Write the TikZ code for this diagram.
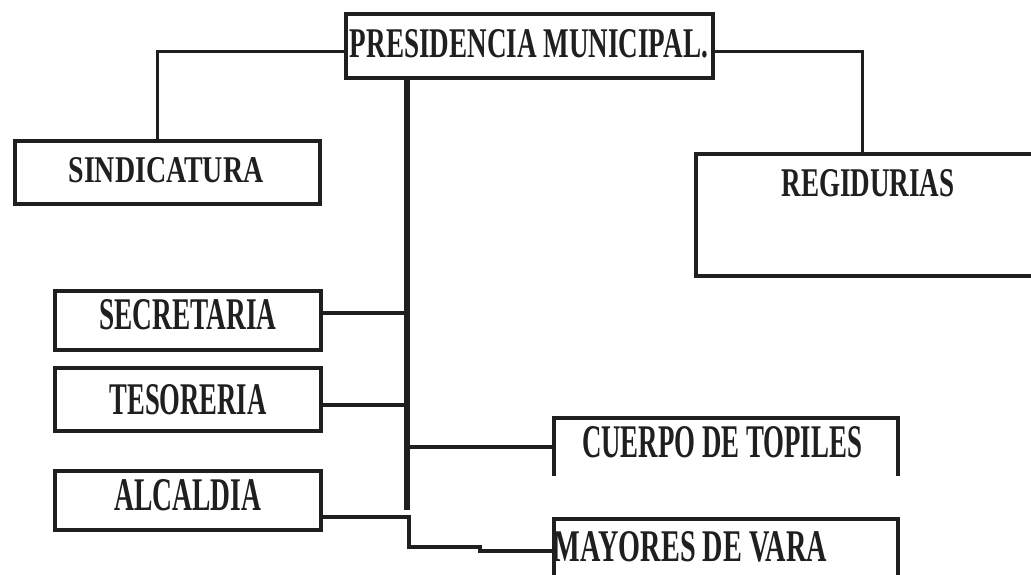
\documentclass[tikz,border=0pt]{standalone}
\usepackage{fontspec}
\usepackage{graphicx}
\setmainfont{Liberation Serif}
\definecolor{ink}{HTML}{1F1F1F}
\newcommand\fitt[3]{\resizebox{#1}{#2}{\bfseries #3}}
\tikzset{
  orgbox/.style={draw=ink, line width=4pt, rectangle, inner sep=0pt},
  txt/.style={inner sep=0pt, text=ink, anchor=center},
  openbox/.style={draw=ink, line width=4pt},
  conn/.style={draw=ink, line width=4pt},
  thinconn/.style={draw=ink, line width=3pt},
  trunk/.style={draw=ink, line width=6pt}
}
\begin{document}
\begin{tikzpicture}[x=1pt,y=-1pt]
\useasboundingbox (0,0) rectangle (1031,575);
\fill[white] (0,0) rectangle (1031,575);
% boxes
\node[orgbox, minimum width=367pt, minimum height=64pt] (pres) at (529.5,46) {};
\node[orgbox, minimum width=305pt, minimum height=63pt] (sind) at (167.5,172.5) {};
\node[orgbox, minimum width=266pt, minimum height=59pt] (sec) at (188,320.5) {};
\node[orgbox, minimum width=266pt, minimum height=63pt] (tes) at (188,399.5) {};
\node[orgbox, minimum width=266pt, minimum height=59pt] (alc) at (188,500.5) {};
% open boxes
\draw[openbox] (1040,154) coordinate (regR) -- (696,154) coordinate (regtop0) -- (696,276) -- (1040,276);
\draw[openbox] (554,476) -- (554,418) -- (898,418) -- (898,476);
\draw[openbox] (554,580) -- (554,519) -- (898,519) -- (898,580);
% texts
\node[txt] (tpres) at (529,44) {\fitt{358pt}{28pt}{PRESIDENCIA MUNICIPAL.}};
\node[txt] (tsind) at (166,170.5) {\fitt{195pt}{25pt}{SINDICATURA}};
\node[txt] (treg) at (868,183.5) {\fitt{173pt}{27pt}{REGIDURIAS}};
\node[txt] (tsec) at (188,315) {\fitt{177pt}{30pt}{SECRETARIA}};
\node[txt] (ttes) at (188,400) {\fitt{157pt}{30pt}{TESORERIA}};
\node[txt] (talc) at (188,495.5) {\fitt{147pt}{31pt}{ALCALDIA}};
\node[txt] (tcue) at (722,442.5) {\fitt{280pt}{31pt}{CUERPO DE TOPILES}};
\node[txt] (tmay) at (690.5,547) {\fitt{273pt}{30pt}{MAYORES DE VARA}};
% coordinates
\coordinate (regtop) at (862,152);
\coordinate (trunktop) at (407,78);
\coordinate (trunkbot) at (407,510);
\coordinate (cueL) at (552,447);
\coordinate (mayL) at (552,551);
% connectors
\draw[thinconn] ([yshift=-6pt]pres.west) -| ([xshift=-10.5pt]sind.north);
\draw[thinconn] ([yshift=-6pt]pres.east) -| (regtop);
\draw[trunk] (trunktop) -- (trunkbot);
\draw[conn] ([yshift=7.5pt]sec.east) coordinate (s1) -- (s1 -| trunktop);
\draw[conn] ([yshift=-5.5pt]tes.east) coordinate (s2) -- (s2 -| trunktop);
\draw[conn] (cueL -| trunktop) -- (cueL);
\draw[conn] ([yshift=-16.5pt]alc.east) -- ++(86,0) -- ++(0,30) -- ++(71,0) -- ++(0,4) -- (mayL);
\end{tikzpicture}
\end{document}
